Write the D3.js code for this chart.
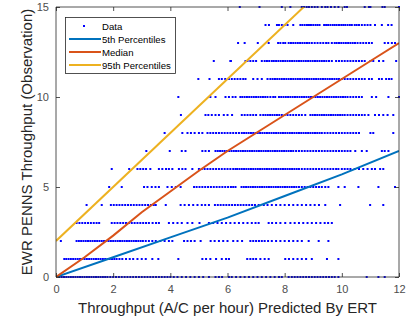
<!DOCTYPE html>
<html><head><meta charset="utf-8">
<script src="https://cdn.jsdelivr.net/npm/d3@7"></script>
<style>body{margin:0;background:#fff}svg{display:block}text{font-family:"Liberation Sans",Arial,sans-serif}</style>
</head><body><svg id="c" width="406" height="321"></svg>
<script>
// Observed throughput rows (y) with predicted throughputs (x) for each
const obsLevels = [0,1,2,3,4,5,6,7,8,9,10,11,12,13,14,15];
const pred0 = [0.12,0.2,0.28,0.36,0.44,0.52,0.6,0.68,0.76,0.84,0.92,1.0,1.08,1.16,1.24,1.32,1.4,1.48,1.56,1.64,1.72,1.8,1.9,2.0,2.1,2.2,2.3,2.4,2.5,2.6,2.7,2.8,2.9,3.0,3.1,3.2,3.3,3.4,3.5,3.6,3.7,3.8,3.9,4.0,4.12,4.25,4.4,4.55,4.7,4.85,5.0,5.15,5.35,5.58,5.7,5.81,6.05,6.15,6.3,6.45,6.6,6.75,6.9,7.05,7.2,7.35,7.5,7.65,7.8,7.9,8.14,8.25,8.35,8.45,8.55,8.65,8.75,8.85,8.95,9.05,9.15,9.25,9.35,9.45,9.55,9.65,9.75,9.88,10.87,11.28,11.5];
const pred1 = [0.29,0.36,0.44,0.52,0.6,0.68,0.76,0.84,0.92,1.0,1.08,1.16,1.24,1.32,1.4,1.48,1.56,1.64,1.72,1.8,1.88,1.96,2.04,2.12,2.22,2.32,2.45,2.58,2.7,2.85,3.0,3.14,3.37,3.58,4.28,5.12,5.25,5.4,5.6,5.8,5.95,6.05,6.69,6.8,6.9,7.0,7.15,7.3,7.44,8.02,8.15,8.3,8.45,8.6,8.75,8.95,9.48,9.88];
const pred2 = [0.17,0.72,0.8,0.88,0.96,1.04,1.12,1.2,1.28,1.36,1.44,1.52,1.6,1.68,1.76,1.84,1.92,2.0,2.08,2.16,2.24,2.32,2.4,2.48,2.56,2.64,2.72,2.8,2.88,2.96,3.04,3.14,3.25,3.37,3.49,3.65,3.8,3.95,4.07,4.48,4.6,4.72,4.85,5.06,5.41,5.55,5.7,5.85,6.0,6.2,6.35,6.51,6.8,6.9,7.0,7.1,7.2,7.3,7.42,7.55,7.7,7.85,8.0,8.15,8.3,8.45,8.6,8.84,9.19,9.53];
const pred3 = [0.72,0.82,0.92,1.02,1.12,1.22,1.32,1.42,1.51,1.95,2.05,2.15,2.25,2.35,2.45,2.55,2.65,2.75,2.85,2.95,3.05,3.15,3.25,3.38,3.5,3.6,3.95,4.1,4.25,4.4,4.6,4.77,5.02,5.35,5.5,5.65,5.8,5.95,6.1,6.25,6.4,6.55,6.7,6.85,6.98,7.09,7.44,7.56,7.7,7.85,8.02,8.2,8.35,8.5,8.65,8.8,8.95,9.1,9.25,9.4,9.52,9.65];
const pred4 = [1.07,1.6,1.92,2.02,2.12,2.22,2.32,2.42,2.52,2.62,2.72,2.82,2.92,3.02,3.12,3.22,3.32,3.42,3.49,3.84,4.36,4.5,4.65,4.8,4.95,5.1,5.22,5.35,5.56,5.66,5.76,5.86,5.96,6.06,6.16,6.26,6.36,6.46,6.56,6.66,6.76,6.86,6.96,7.09,7.27,7.4,7.55,7.7,7.85,8.0,8.15,8.3,8.45,8.6,8.75,8.9,9.05,9.2,9.42,9.94,10.99,11.45];
const pred5 = [1.86,2.3,3.08,3.2,3.35,3.48,3.6,3.9,4.05,4.19,4.36,4.83,4.92,5.02,5.12,5.22,5.32,5.42,5.52,5.62,5.72,5.82,5.92,6.02,6.12,6.2,6.28,6.49,6.57,6.65,6.73,6.81,6.89,6.97,7.05,7.13,7.21,7.29,7.37,7.45,7.53,7.61,7.69,7.77,7.85,7.93,8.01,8.09,8.17,8.25,8.33,8.41,8.5,8.6,8.7,8.8,8.9,9.0,9.1,9.2,9.3,9.42,9.53,9.88,10.1,10.58,11.28,11.86];
const pred6 = [1.95,2.56,2.85,2.95,3.05,3.15,3.3,3.6,3.72,3.85,3.95,4.07,4.3,4.42,4.53,4.77,5.0,5.1,5.2,5.3,5.4,5.5,5.6,5.7,5.8,5.9,6.0,6.1,6.2,6.28,6.34,6.42,6.5,6.58,6.66,6.74,6.82,6.9,6.98,7.06,7.14,7.22,7.3,7.38,7.46,7.54,7.62,7.7,7.78,7.86,7.94,8.02,8.1,8.18,8.26,8.34,8.42,8.5,8.6,8.7,8.8,8.9,9.0,9.1,9.2,9.3,9.4,9.5,9.6,9.7,9.8,9.88,10.0,10.1,10.2,10.3,10.45,10.6,10.75,10.9,11.05,11.16,11.34,11.45];
const pred7 = [3.16,3.98,4.4,4.53,5.12,5.23,5.35,5.58,5.66,5.74,5.82,5.9,5.98,6.06,6.14,6.22,6.3,6.38,6.46,6.54,6.62,6.7,6.78,6.86,6.94,7.02,7.1,7.18,7.26,7.34,7.42,7.5,7.58,7.66,7.74,7.82,7.9,7.98,8.06,8.14,8.22,8.3,8.4,8.5,8.6,8.7,8.8,8.9,9.0,9.1,9.2,9.3,9.4,9.5,9.6,9.7,9.8,9.9,10.0,10.1,10.2,10.3,10.47,10.7,10.87,11.4,11.5,11.63];
const pred8 = [3.8,4.42,4.6,4.72,4.85,5.0,5.12,5.3,5.4,5.5,5.6,5.7,5.8,5.9,6.0,6.1,6.2,6.3,6.4,6.5,6.58,6.66,6.74,6.82,6.9,6.98,7.06,7.14,7.22,7.3,7.38,7.46,7.54,7.62,7.7,7.78,7.86,7.94,8.02,8.1,8.18,8.26,8.34,8.42,8.5,8.58,8.66,8.74,8.82,8.9,8.98,9.06,9.14,9.22,9.3,9.4,9.5,9.6,9.7,9.8,9.9,10.0,10.1,10.2,10.3,10.4,10.5,10.6,11.0,11.1,11.8];
const pred9 = [4.37,5.23,5.33,5.45,5.58,5.7,5.87,6.0,6.16,6.5,6.6,6.7,6.8,6.9,7.0,7.15,7.25,7.33,7.41,7.49,7.57,7.65,7.73,7.81,7.9,8.0,8.1,8.2,8.3,8.4,8.5,8.6,8.72,8.9,8.98,9.06,9.14,9.22,9.3,9.38,9.46,9.54,9.62,9.7,9.78,9.86,9.94,10.02,10.1,10.2,10.3,10.4,10.5,10.6,10.7,10.8,10.93,11.16,11.3,11.45,11.6,11.8];
const pred10 = [4.28,5.4,5.58,5.93,6.05,6.18,6.28,6.45,6.52,6.6,6.68,6.76,6.84,6.92,7.0,7.08,7.16,7.24,7.32,7.4,7.5,7.6,7.67,7.8,7.88,7.96,8.04,8.12,8.2,8.28,8.36,8.44,8.52,8.6,8.68,8.76,8.84,8.92,9.0,9.08,9.16,9.24,9.32,9.4,9.48,9.56,9.64,9.72,9.8,9.88,9.96,10.04,10.12,10.2,10.3,10.4,10.5,10.6,10.7,11.05,11.2,11.63,12.0];
const pred11 = [4.98,5.37,5.7,5.8,5.92,6.05,6.15,6.25,6.35,6.45,6.55,6.63,6.9,7.05,7.2,7.4,7.5,7.58,7.66,7.74,7.82,7.9,7.98,8.06,8.14,8.22,8.3,8.38,8.46,8.54,8.62,8.7,8.78,8.86,8.94,9.02,9.1,9.18,9.26,9.34,9.42,9.5,9.58,9.66,9.74,9.82,9.9,10.0,10.1,10.2,10.3,10.4,10.5,10.6,10.7,10.8,10.95,11.05,11.3,11.4,11.55,11.65,11.74];
const pred12 = [5.52,6.1,6.12,6.63,6.7,6.8,6.9,7.0,7.2,7.3,7.38,7.46,7.55,7.62,7.7,7.78,7.86,7.94,8.02,8.1,8.18,8.26,8.34,8.42,8.5,8.58,8.66,8.74,8.82,8.9,8.98,9.06,9.14,9.22,9.3,9.38,9.46,9.55,9.65,9.8,9.9,10.0,10.1,10.2,10.3,10.4,10.5,10.6,10.7,10.8,11.0,11.1,11.3,11.45,11.9];
const pred13 = [6.37,6.6,7.06,7.44,7.77,7.85,7.95,8.02,8.14,8.22,8.3,8.38,8.46,8.54,8.62,8.7,8.78,8.86,8.95,9.05,9.15,9.25,9.35,9.45,9.53,9.65,9.75,9.82,9.9,9.98,10.06,10.14,10.22,10.3,10.38,10.46,10.55,10.65,10.75,10.85,10.95,11.05,11.5,11.62,11.75,11.86];
const pred14 = [7.33,7.45,7.73,7.8,7.9,8.0,8.1,8.3,8.55,8.62,8.7,8.78,8.85,8.92,9.0,9.08,9.15,9.22,9.38,9.45,9.52,9.6,9.68,9.75,9.82,9.9,9.98,10.05,10.12,10.2,10.28,10.35,10.45,10.52,10.6,10.7,10.8,10.9,11.0,11.16,11.4,11.62,11.74];
const pred15 = [6.43,7.12,7.9,8.2,8.6,8.68,8.77,8.85,8.95,9.05,9.15,9.3,9.42,9.5,9.62,9.75,9.88,10.1,10.18,10.8,10.95,11.0,11.42,11.5,12.0];
const predRows = [pred0,pred1,pred2,pred3,pred4,pred5,pred6,pred7,pred8,pred9,pred10,pred11,pred12,pred13,pred14,pred15];

// Percentile curves
const p5X = [0,2,4,6,8,10,12];
const p5Y = [0,1.1,2.2,3.3,4.5,5.7,7.0];
const medX = [0,1,2,3,4,5,6,7,8,9,10,11,12];
const medY = [0,1.1,2.3,3.6,4.75,5.9,7.0,8.0,9.0,10.0,11.0,12.0,13.0];
const p95X = [0,12];
const p95Y = [2,20];

const xTicks = [0,2,4,6,8,10,12];
const yTicks = [0,5,10,15];
const legendLabels = ["Data","5th Percentiles","Median","95th Percentiles"];
const lineColors = ["#0072BD","#D95319","#EDB120"];

const svg = d3.select("#c");
const L = 56, R = 399, T = 7, B = 277;
const x = d3.scaleLinear().domain([0,12]).range([L,R]);
const y = d3.scaleLinear().domain([0,15]).range([B,T]);
const axisCol = "#262626", tickTxt = "#4d4d4d";

svg.append("defs").append("clipPath").attr("id","clip")
  .append("rect").attr("x",L).attr("y",T).attr("width",R-L).attr("height",B-T);

// scatter
const pts = [];
predRows.forEach((row,i)=>row.forEach(v=>pts.push([v,obsLevels[i]])));
svg.append("g").selectAll("rect").data(pts).join("rect")
  .attr("x",d=>x(d[0])-1).attr("y",d=>y(d[1])-1)
  .attr("width",2).attr("height",2).attr("fill","#0000ff");

// lines
const lineGen = d3.line().x(d=>x(d[0])).y(d=>y(d[1]));
const series = [d3.zip(p5X,p5Y), d3.zip(medX,medY), d3.zip(p95X,p95Y)];
svg.append("g").attr("clip-path","url(#clip)").selectAll("path").data(series).join("path")
  .attr("d",lineGen).attr("fill","none").attr("stroke-width",2)
  .attr("stroke",(d,i)=>lineColors[i]);

// axes (MATLAB style, ticks inward on all sides)
const tl = 4;
const gx = svg.append("g").attr("transform",`translate(0,${B})`)
  .call(d3.axisBottom(x).tickValues(xTicks).tickSize(-tl).tickPadding(8).tickFormat(d3.format("d")));
const gxt = svg.append("g").attr("transform",`translate(0,${T})`)
  .call(d3.axisTop(x).tickValues(xTicks).tickSize(-tl).tickFormat(""));
const gy = svg.append("g").attr("transform",`translate(${L},0)`)
  .call(d3.axisLeft(y).tickValues(yTicks).tickSize(-tl).tickPadding(7).tickFormat(d3.format("d")));
const gyr = svg.append("g").attr("transform",`translate(${R},0)`)
  .call(d3.axisRight(y).tickValues(yTicks).tickSize(-tl).tickFormat(""));
[gx,gxt,gy,gyr].forEach(g=>{
  g.select(".domain").attr("stroke",axisCol).attr("stroke-width",0.8);
  g.selectAll(".tick line").attr("stroke",axisCol).attr("stroke-width",0.8);
  g.selectAll(".tick text").attr("fill",tickTxt).attr("font-size",11).attr("font-family","Liberation Sans, Arial, sans-serif");
});
gx.select(".domain").attr("d",`M${L},0H${R}`);
gxt.select(".domain").attr("d",`M${L},0H${R}`);
gy.select(".domain").attr("d",`M0,${T}V${B}`);
gyr.select(".domain").attr("d",`M0,${T}V${B}`);

// labels
svg.append("text").attr("x",(L+R)/2).attr("y",313).attr("text-anchor","middle")
  .attr("font-size",15).attr("fill",axisCol).text("Throughput (A/C per hour) Predicted By ERT");
svg.append("text").attr("transform",`translate(32,${(T+B)/2}) rotate(-90)`).attr("text-anchor","middle")
  .attr("font-size",15).attr("fill",axisCol).text("EWR PENNS Throughput (Observation)");

// legend
const lg = svg.append("g");
lg.append("rect").attr("x",65.5).attr("y",17.5).attr("width",110).attr("height",56)
  .attr("fill","#fff").attr("stroke",axisCol).attr("stroke-width",0.8);
const rowsY = [26,39,52,65];
lg.append("rect").attr("x",84-1).attr("y",rowsY[0]-1).attr("width",2).attr("height",2).attr("fill","#0000ff");
lineColors.forEach((c,i)=>{
  lg.append("line").attr("x1",69).attr("x2",101).attr("y1",rowsY[i+1]).attr("y2",rowsY[i+1])
    .attr("stroke",c).attr("stroke-width",2);
});
legendLabels.forEach((t,i)=>{
  lg.append("text").attr("x",102).attr("y",rowsY[i]+3.5).attr("font-size",9.6)
    .attr("fill","#000").text(t);
});
</script></body></html>
